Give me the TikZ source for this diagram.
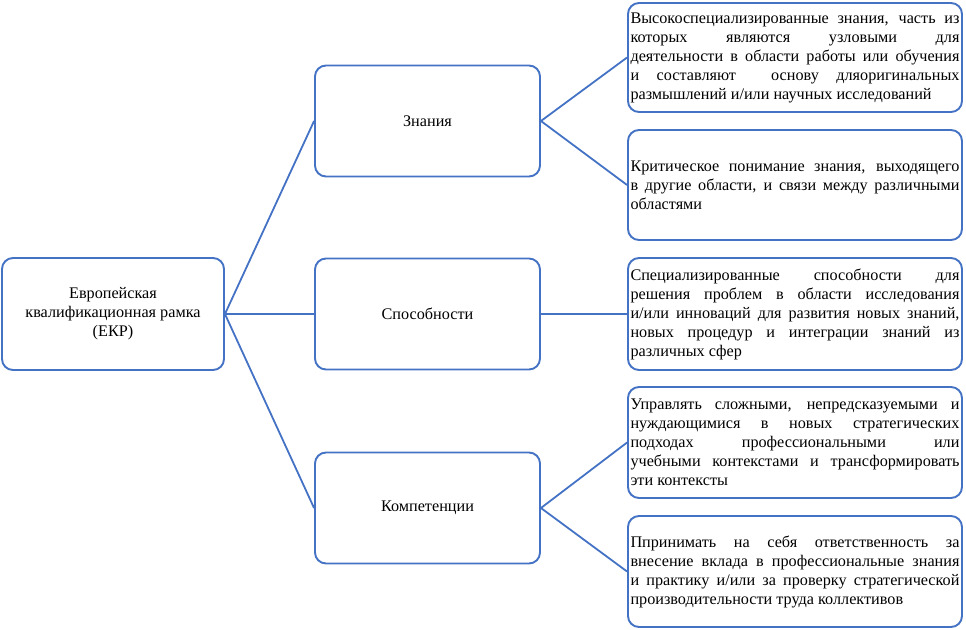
\documentclass[tikz,border=0pt]{standalone}
\usepackage{fontspec}
\setmainfont{Liberation Serif}
\definecolor{boxblue}{RGB}{68,114,196}
\begin{document}
\begin{tikzpicture}[x=1pt,y=-1pt,
  box/.style={draw=boxblue, line width=1.9pt, rounded corners=11pt, fill=white,
    font=\rmfamily\fontsize{16.2}{19}\selectfont, inner sep=0pt},
  midbox/.style={box, minimum width=225pt, minimum height=111pt, align=center},
  rootbox/.style={box, minimum width=222pt, minimum height=112pt, align=center},
  infobox/.style={box, minimum width=334pt, text width=329pt, align=justify},
  link/.style={draw=boxblue, line width=1.8pt}]
\useasboundingbox (0,0) rectangle (966,629);

\node[rootbox] (root) at (113,314) {Европейская\\квалификационная рамка\\(ЕКР)};

\node[midbox] (kn) at (427.5,121) {Знания};
\node[midbox] (sk) at (427.5,314) {Способности};
\node[midbox] (co) at (427.5,508) {Компетенции};

\node[infobox, minimum height=109pt] (r1) at (795,57.5) {Высокоспециализированные знания, часть из\linebreak которых являются узловыми для\linebreak деятельности в области работы или обучения\linebreak и составляют \ основу дляоригинальных\linebreak размышлений и/или научных исследований};
\node[infobox, minimum height=110pt] (r2) at (795,185) {Критическое понимание знания, выходящего\linebreak в другие области, и связи между различными\linebreak областями};
\node[infobox, minimum height=112pt] (r3) at (795,314) {Специализированные способности для\linebreak решения проблем в области исследования\linebreak и/или инноваций для развития новых знаний,\linebreak новых процедур и интеграции знаний из\linebreak различных сфер};
\node[infobox, minimum height=111pt] (r4) at (795,442.5) {Управлять сложными, непредсказуемыми и\linebreak нуждающимися в новых стратегических\linebreak подходах профессиональными или\linebreak учебными контекстами и трансформировать\linebreak эти контексты};
\node[infobox, minimum height=111pt] (r5) at (795,571.5) {Ппринимать на себя ответственность за\linebreak внесение вклада в профессиональные знания\linebreak и практику и/или за проверку стратегической\linebreak производительности труда коллективов};

\draw[link] (root.east) -- (kn.west);
\draw[link] (root.east) -- (sk.west);
\draw[link] (root.east) -- (co.west);
\draw[link] (kn.east) -- (r1.west);
\draw[link] (kn.east) -- (r2.west);
\draw[link] (sk.east) -- (r3.west);
\draw[link] (co.east) -- (r4.west);
\draw[link] (co.east) -- (r5.west);
\end{tikzpicture}
\end{document}
